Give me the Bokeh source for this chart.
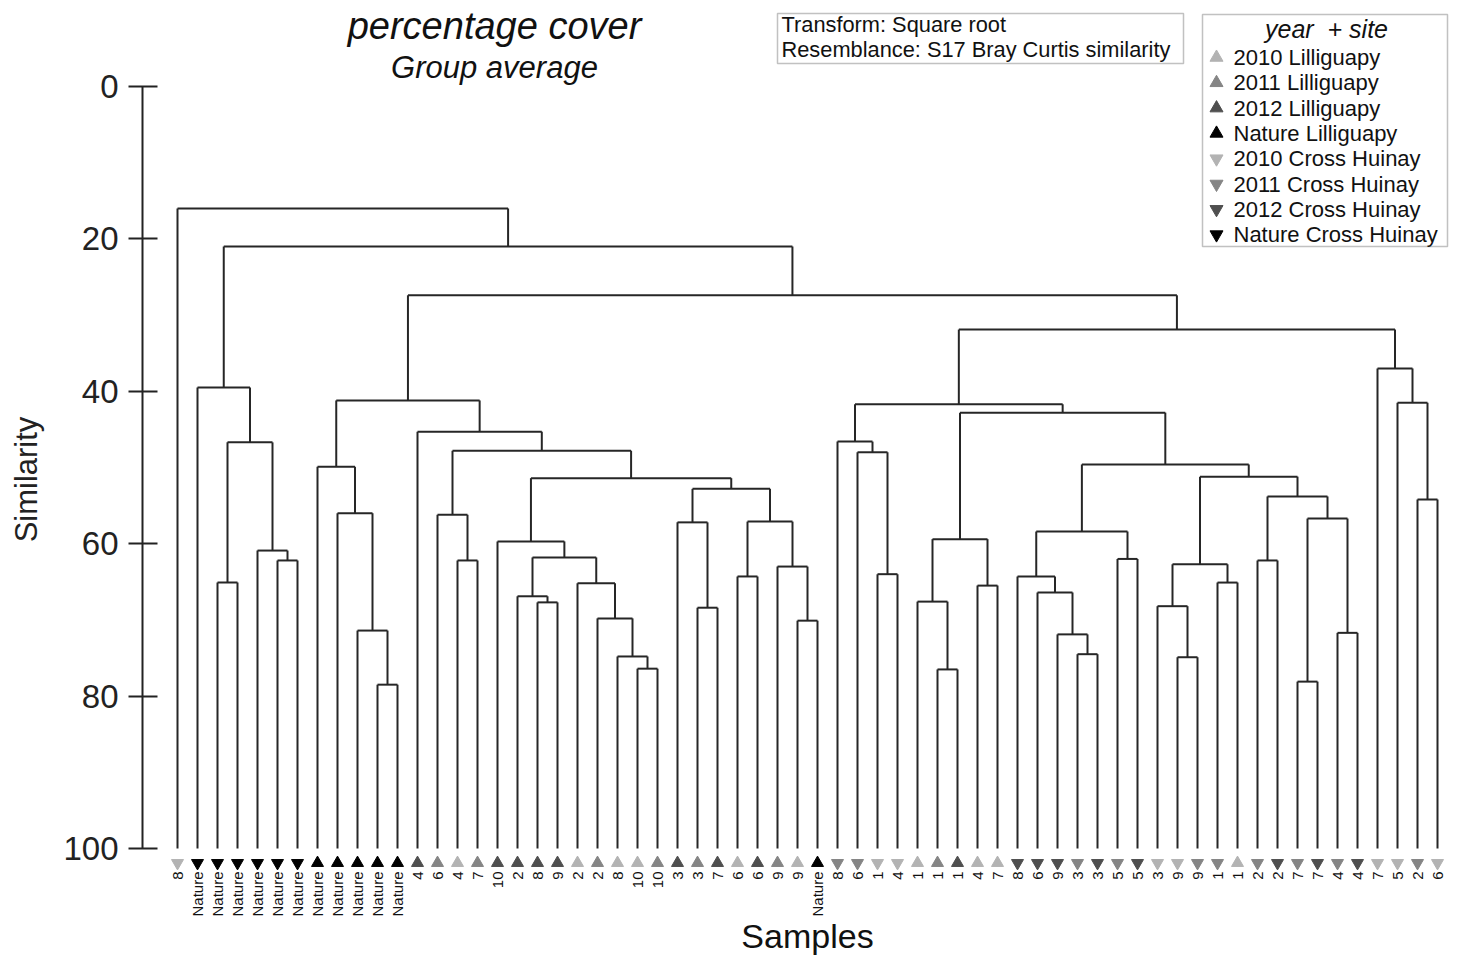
import math
from bokeh.plotting import figure
from bokeh.models import Range1d, FixedTicker, ColumnDataSource, Label, BoxAnnotation
from bokeh.core.properties import value
from bokeh.embed import file_html
from bokeh.resources import INLINE

# ---------------- data ----------------
leaf_labels = [
    "8", "Nature", "Nature", "Nature", "Nature", "Nature", "Nature",
    "Nature", "Nature", "Nature", "Nature", "Nature",
    "4", "6", "4", "7", "10", "2", "8", "9", "2", "2", "8", "10", "10",
    "3", "3", "7", "6", "6", "9", "9", "Nature",
    "8", "6", "1", "4", "1", "1", "1", "4", "7", "8", "6", "9", "3", "3",
    "5", "5", "3", "9", "9", "1", "1", "2", "2", "7", "7", "4", "4", "7",
    "5", "2", "6",
]
# group index of every leaf (see group_names)
leaf_groups = [
    4, 7, 7, 7, 7, 7, 7,
    3, 3, 3, 3, 3,
    2, 1, 0, 1, 2, 2, 2, 2, 0, 1, 0, 0, 1,
    2, 1, 2, 0, 2, 1, 0, 3,
    5, 5, 4, 4, 0, 1, 2, 0, 0, 6, 6, 6, 5, 6,
    5, 6, 4, 4, 5, 5, 0, 5, 6, 5, 6, 5, 6, 4,
    4, 5, 4,
]
group_names = ["2010 Lilliguapy", "2011 Lilliguapy", "2012 Lilliguapy", "Nature Lilliguapy",
               "2010 Cross Huinay", "2011 Cross Huinay", "2012 Cross Huinay", "Nature Cross Huinay"]
group_markers = ["triangle"] * 4 + ["inverted_triangle"] * 4
group_colors = ["#b3b3b3", "#858585", "#4f4f4f", "#000000",
                "#b3b3b3", "#858585", "#4f4f4f", "#000000"]

# merges (children: leaf index 0..63, or 64+k for the k-th merge), similarity level
merge_a = [2, 5, 4, 64, 1,
           10, 9, 8, 7,
           14, 13, 18, 17, 23, 22, 21, 20, 76, 16, 26, 25, 28, 31, 30, 85, 84, 82, 74, 12, 72,
           35, 34, 33, 38, 37, 40, 98, 45, 44, 43, 42, 47, 104, 50, 49, 52, 108, 54, 56, 58,
           112, 111, 110, 106, 100, 96, 62, 61, 60, 119, 93, 68, 0]
merge_b = [3, 6, 65, 66, 67,
           11, 69, 70, 71,
           15, 73, 19, 75, 24, 77, 78, 79, 80, 81, 27, 83, 29, 32, 86, 87, 88, 89, 90, 91, 92,
           36, 94, 95, 39, 97, 41, 99, 46, 101, 102, 103, 48, 105, 51, 107, 53, 109, 55, 57, 59,
           113, 114, 115, 116, 117, 118, 63, 120, 121, 122, 123, 124, 125]
merge_sim = [65.1, 62.2, 60.9, 46.7, 39.5,
             78.5, 71.4, 56.0, 49.9,
             62.2, 56.2, 67.7, 66.9, 76.4, 74.8, 69.8, 65.2, 61.8, 59.7, 68.4, 57.2, 64.3, 70.1,
             63.0, 57.1, 52.8, 51.4, 47.8, 45.3, 41.2,
             64.0, 48.0, 46.6, 76.5, 67.6, 65.5, 59.4, 74.5, 71.9, 66.4, 64.3, 62.0, 58.4, 74.9,
             68.2, 65.1, 62.7, 62.2, 78.1, 71.7, 56.7, 53.8, 51.2, 49.6, 42.8, 41.7, 54.2, 41.5,
             37.0, 31.9, 27.4, 21.0, 16.0]

y_ticks = [0, 20, 40, 60, 80, 100]

# ---------------- geometry from the tree ----------------
n = len(leaf_labels)
node_x = [float(i) for i in range(n)]
node_y = [100.0] * n
x0, y0, x1, y1 = [], [], [], []
for a, b, s in zip(merge_a, merge_b, merge_sim):
    xa, xb = node_x[a], node_x[b]
    x0 += [xa, xb, xa]
    y0 += [node_y[a], node_y[b], s]
    x1 += [xa, xb, xb]
    y1 += [s, s, s]
    node_x.append((xa + xb) / 2.0)
    node_y.append(s)

# pixel helpers for layout (leaf 0 at px 177, 20 px per leaf; sim 0 at py 86, 7.62 px per unit)
def px(v):
    return (v - 177.0) / 20.0

def py(v):
    return (v - 86.0) / 7.62

FONT = "Liberation Sans"
W, H = 1457, 958

p = figure(width=W, height=H, output_backend="svg", toolbar_location=None,
           x_range=Range1d(px(142), px(1457)), y_range=Range1d(py(958), py(0)),
           x_axis_location=None, y_axis_location="left",
           min_border_left=142, min_border_right=0, min_border_top=0, min_border_bottom=0)
p.outline_line_color = None
p.grid.visible = False
p.background_fill_color = "white"
p.border_fill_color = "white"

ax = p.yaxis[0]
ax.ticker = FixedTicker(ticks=y_ticks)
ax.bounds = (0, 100)
ax.axis_line_color = "#222222"
ax.axis_line_width = 2
ax.major_tick_line_color = "#222222"
ax.major_tick_line_width = 2
ax.major_tick_in = 15
ax.major_tick_out = 14
ax.minor_tick_line_color = None
ax.major_label_standoff = 10
ax.major_label_text_font = FONT
ax.major_label_text_font_size = "33px"
ax.major_label_text_color = "#222222"
ax.axis_label = "Similarity"
ax.axis_label_text_font = FONT
ax.axis_label_text_font_size = "31px"
ax.axis_label_text_font_style = "normal"
ax.axis_label_text_color = "#222222"
ax.axis_label_standoff = 16

# dendrogram
seg = ColumnDataSource(dict(x0=x0, y0=y0, x1=x1, y1=y1))
p.segment(x0="x0", y0="y0", x1="x1", y1="y1", source=seg,
          line_color="#262626", line_width=2)

# leaf markers
leaf_src = ColumnDataSource(dict(
    x=list(range(n)),
    y=[py(862.5)] * n,
    marker=[group_markers[g] for g in leaf_groups],
    color=[group_colors[g] for g in leaf_groups],
    label=leaf_labels,
    ly=[py(871)] * n,
))
p.scatter(x="x", y="y", marker="marker", size=12, fill_color="color",
          line_color="color", source=leaf_src)
p.text(x="x", y="ly", text="label", angle=math.pi / 2, text_align="right",
       text_baseline="middle", text_font=value(FONT), text_font_size="15px",
       text_color="#111111", source=leaf_src)

# titles
p.add_layout(Label(x=px(494), y=py(25), text="percentage cover", text_align="center",
                   text_baseline="middle", text_font=FONT, text_font_size="38px",
                   text_font_style="italic", text_color="#111111"))
p.add_layout(Label(x=px(494), y=py(67), text="Group average", text_align="center",
                   text_baseline="middle", text_font=FONT, text_font_size="31px",
                   text_font_style="italic", text_color="#111111"))

# transform box
p.add_layout(BoxAnnotation(left=px(777), right=px(1183), top=py(13), bottom=py(63),
                           fill_alpha=0, line_color="#333333", line_width=1.5))
p.add_layout(Label(x=px(781), y=py(24), text="Transform: Square root", text_align="left",
                   text_baseline="middle", text_font=FONT, text_font_size="21.8px",
                   text_color="#111111"))
p.add_layout(Label(x=px(781), y=py(49), text="Resemblance: S17 Bray Curtis similarity",
                   text_align="left", text_baseline="middle", text_font=FONT,
                   text_font_size="21.8px", text_color="#111111"))

# legend (manual)
p.add_layout(BoxAnnotation(left=px(1202), right=px(1447), top=py(14), bottom=py(246),
                           fill_alpha=0, line_color="#333333", line_width=1.5))
p.add_layout(Label(x=px(1326), y=py(28), text="year\u00a0\u00a0+ site", text_align="center",
                   text_baseline="middle", text_font=FONT, text_font_size="25px",
                   text_font_style="italic", text_color="#111111"))
leg_y = [py(57 + 25.3 * i) for i in range(len(group_names))]
leg_src = ColumnDataSource(dict(
    x=[px(1216)] * len(group_names), tx=[px(1233)] * len(group_names), y=leg_y,
    marker=group_markers, color=group_colors, name=group_names))
p.scatter(x="x", y="y", marker="marker", size=13, fill_color="color",
          line_color="color", source=leg_src)
p.text(x="tx", y="y", text="name", text_align="left", text_baseline="middle",
       text_font=value(FONT), text_font_size="22px", text_color="#111111", source=leg_src)

# x axis title
p.add_layout(Label(x=px(807), y=py(935), text="Samples", text_align="center",
                   text_baseline="middle", text_font=FONT, text_font_size="34px",
                   text_color="#111111"))

open("out.html", "w").write(file_html(p, INLINE))
